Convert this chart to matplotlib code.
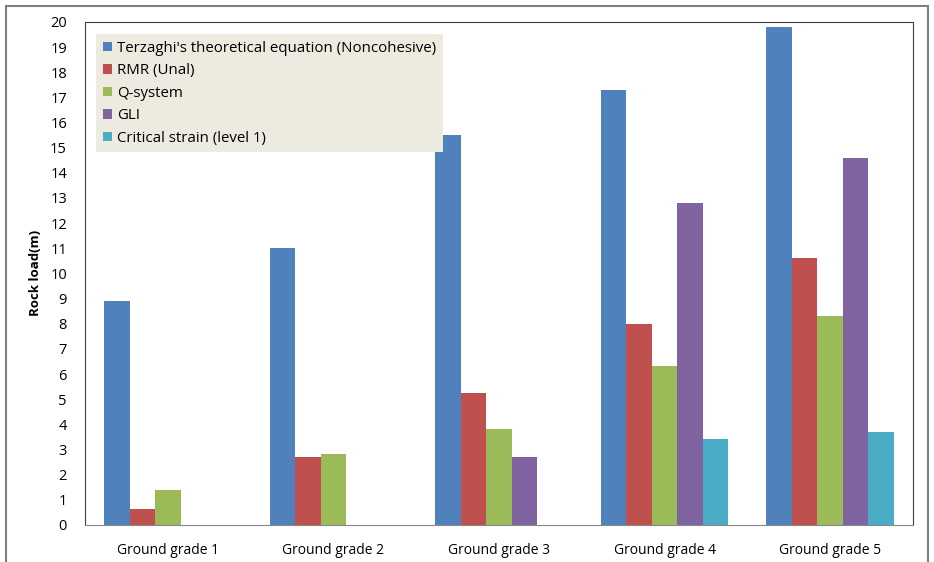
import numpy as np
import matplotlib
matplotlib.use('Agg')
import matplotlib.pyplot as plt
from matplotlib.patches import Rectangle

# data
grades = ['Ground grade 1', 'Ground grade 2', 'Ground grade 3',
          'Ground grade 4', 'Ground grade 5']
series = ["Terzaghi's theoretical equation (Noncohesive)", 'RMR (Unal)',
          'Q-system', 'GLI', 'Critical strain (level 1)']
terzaghi = [8.9, 11.0, 15.5, 17.3, 19.8]
rmr = [0.65, 2.7, 5.25, 8.0, 10.6]
qsys = [1.4, 2.8, 3.8, 6.3, 8.3]
gli = [0, 0, 2.7, 12.8, 14.6]
critical = [0, 0, 0, 3.4, 3.7]
colors = ['#4F81BD', '#C0504D', '#9BBB59', '#8064A2', '#4BACC6']

plt.rcParams['font.family'] = ['Open Sans', 'DejaVu Sans']

fig = plt.figure(figsize=(9.34, 5.62), dpi=100)
ax = fig.add_axes([0.091, 0.066, 0.8865, 0.895])

x = np.arange(len(grades))
w = 0.154
all_vals = [terzaghi, rmr, qsys, gli, critical]
for i, (vals, name, c) in enumerate(zip(all_vals, series, colors)):
    ax.bar(x + (i - 2) * w, vals, w, color=c, label=name)

ax.set_xlim(-0.5, 4.5)
ax.set_ylim(0, 20)
ax.set_yticks(range(0, 21))
ax.set_xticks(x)
ax.set_xticklabels(grades, fontsize=10)
ax.tick_params(axis='y', labelsize=10.5, length=0, pad=13)
ax.tick_params(axis='x', length=0, pad=13)
ax.set_ylabel('Rock load(m)', fontsize=9.5, fontweight='bold', labelpad=6)

for s in ['top', 'left', 'right']:
    ax.spines[s].set_color('#404040')
ax.spines['bottom'].set_color('#888888')

leg = ax.legend(loc='upper left', bbox_to_anchor=(0.0133, 0.976),
                borderaxespad=0, fontsize=10.8, frameon=True, fancybox=False,
                handlelength=0.6, handleheight=0.6, handletextpad=0.35,
                labelspacing=0.5, borderpad=0.45)
leg.get_frame().set_facecolor('#EDEAE0')
leg.get_frame().set_edgecolor('none')
leg.get_frame().set_alpha(1)

# outer frame
fig.patches.append(Rectangle((6 / 934, -0.05), 922 / 934, 1.04,
                             transform=fig.transFigure, fill=False,
                             edgecolor='#7f7f7f', linewidth=1.5))

plt.savefig('out.png', dpi=100)
